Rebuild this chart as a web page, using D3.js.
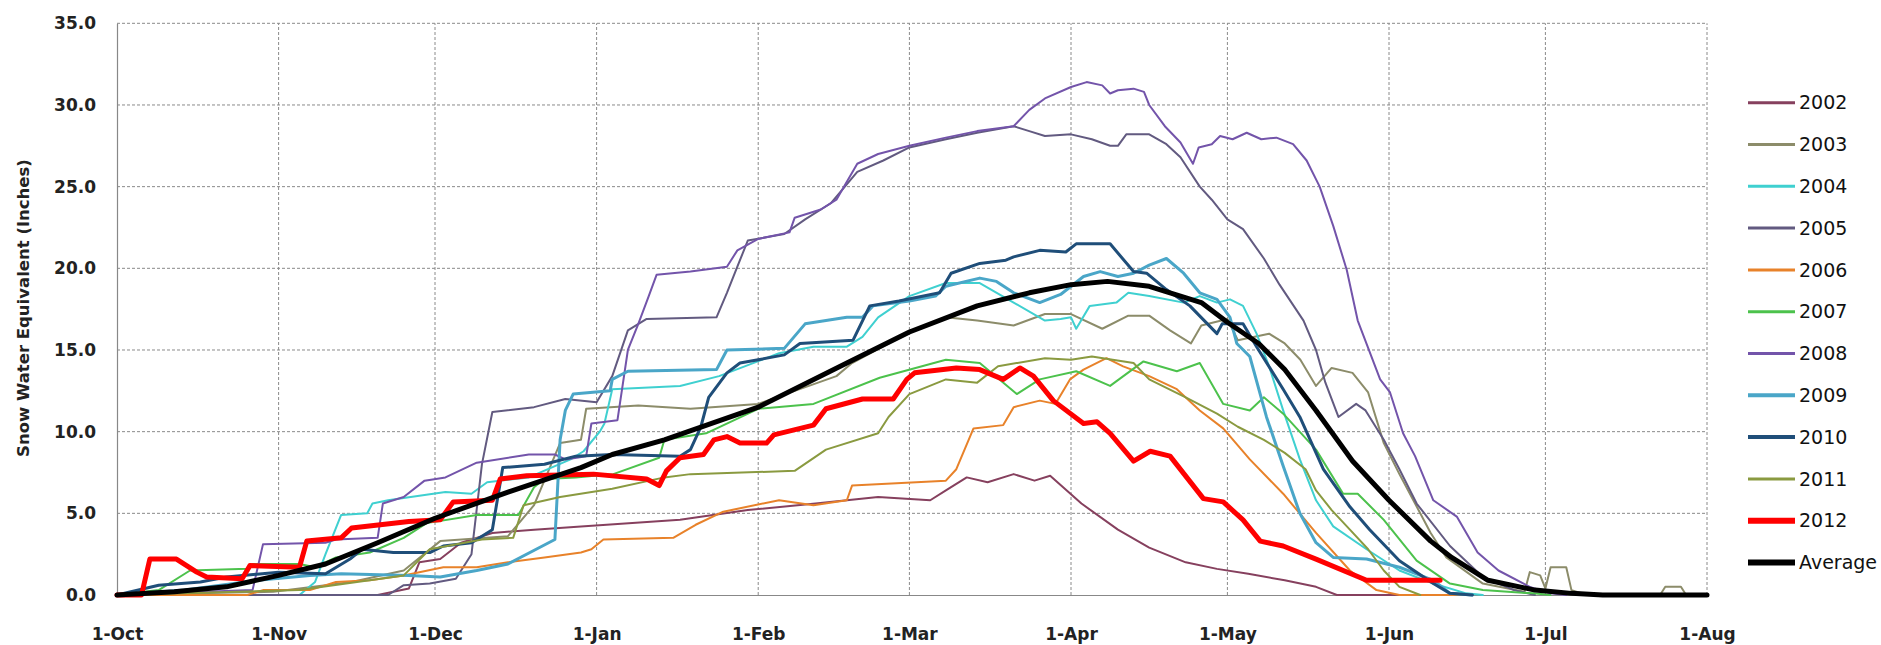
<!DOCTYPE html>
<html><head><meta charset="utf-8">
<script src="https://cdn.jsdelivr.net/npm/d3@7"></script>
<style>body{margin:0;background:#fff;} svg{display:block;}</style>
</head><body><svg id="chart" width="1881" height="645"></svg>
<script>
// ---- data (day offset from 1-Oct, SWE inches) ----
const seasonStart = "2011-10-01";
const seasonEnd = "2012-08-01";
const yTicks = [0, 5, 10, 15, 20, 25, 30, 35];
const monthTicks = ["2011-10-01","2011-11-01","2011-12-01","2012-01-01","2012-02-01","2012-03-01","2012-04-01","2012-05-01","2012-06-01","2012-07-01","2012-08-01"];
const monthLabels = ["1-Oct","1-Nov","1-Dec","1-Jan","1-Feb","1-Mar","1-Apr","1-May","1-Jun","1-Jul","1-Aug"];
const seriesNames = ["2002","2003","2004","2005","2006","2007","2008","2009","2010","2011","2012","Average"];

const swe2002 = [[0,0],[50,0],[56,0.4],[58,2.0],[62,2.2],[66,3.2],[72,3.8],[80,4.0],[89,4.2],[108,4.6],[121,5.2],[134,5.6],[146,6.0],[156,5.8],[159,6.4],[163,7.2],[167,6.9],[172,7.4],[176,7.0],[179,7.3],[185,5.6],[192,4.0],[198,2.9],[205,2.0],[211,1.6],[217,1.3],[224,0.9],[230,0.5],[234,0],[250,0]];
const swe2003 = [[0,0],[30,0.2],[45,0.8],[55,1.5],[62,3.3],[75,3.6],[80,5.5],[85,9.3],[89,9.5],[90,11.4],[100,11.6],[110,11.4],[123,11.7],[138,13.4],[141,14.2],[152,16.1],[159,17.0],[165,16.8],[172,16.5],[178,17.2],[183,17.2],[189,16.3],[194,17.1],[198,17.1],[202,16.2],[206,15.4],[208,16.5],[213,16.9],[215,15.6],[221,16.0],[224,15.4],[227,14.4],[230,12.8],[233,13.9],[237,13.6],[240,12.4],[243,9.3],[246,7.4],[249,5.6],[252,3.8],[255,2.3],[262,0.7],[270,0.2],[271,1.4],[273,1.2],[274,0.4],[275,1.7],[278,1.7],[279,0.3],[282,0],[296,0],[297,0.5],[300,0.5],[301,0],[305,0]];
const swe2004 = [[0,0],[35,0],[38,0.8],[40,2.5],[43,4.9],[48,5.0],[49,5.6],[52,5.8],[63,6.3],[68,6.2],[71,6.9],[79,7.2],[87,8.3],[89.5,8.8],[92.6,10.0],[93.5,10.5],[95,12.6],[108,12.8],[115.5,13.4],[127,14.8],[133.6,15.2],[140,15.2],[143,15.8],[146,17.0],[152,18.3],[159,19.1],[165.5,19.1],[172,17.9],[178,16.8],[181,16.9],[183,17.0],[184,16.3],[186.6,17.7],[191.7,17.9],[194,18.5],[198,18.3],[204.6,17.9],[207.7,18.3],[211,17.9],[213.5,18.1],[216,17.7],[218.6,16.0],[221,14.0],[223.7,11.3],[226.9,8.3],[230,5.8],[233.3,4.2],[239.7,2.8],[246,1.5],[252.5,0.7],[258.8,0.1],[262,0]];
const swe2005 = [[0,0],[52,0],[55,0.6],[60,0.7],[65,1.0],[68,2.5],[70,8.0],[72,11.2],[80,11.5],[86,12.0],[92,11.8],[95,13.4],[98,16.2],[101.6,16.9],[115,17.0],[117,18.5],[119,20.1],[121,21.7],[128,22.1],[132,23.0],[137,24.0],[142,25.9],[147,26.6],[152,27.4],[159,27.9],[165,28.3],[172,28.7],[175,28.4],[178,28.1],[183,28.2],[187,27.9],[190.5,27.5],[192,27.5],[193.6,28.2],[198,28.2],[201.3,27.6],[204,26.8],[207.7,25.0],[210,24.2],[213,23.0],[216,22.4],[220,20.6],[223,19.0],[227.6,16.8],[230,15.0],[231.8,13.0],[234.3,10.9],[237.7,11.7],[239.5,11.3],[243,9.5],[246,7.7],[249.3,5.6],[255.7,3.0],[262,1.1],[268,0.3],[272,0]];
const swe2006 = [[0,0],[25,0],[28,0.3],[37,0.3],[42,0.8],[48.5,0.9],[55,1.2],[62.6,1.7],[69,1.7],[75,2.0],[82,2.3],[89,2.6],[91,2.8],[93.3,3.4],[106.7,3.5],[111,4.3],[116.3,5.1],[127,5.8],[133.6,5.5],[140,5.8],[141,6.7],[159,7.0],[161,7.7],[164.3,10.2],[170,10.4],[172,11.5],[177,11.9],[180,11.7],[182.8,13.2],[185.4,13.8],[189.8,14.5],[193,14.0],[198,13.4],[203.3,12.6],[207.7,11.3],[212.2,10.2],[217.3,8.3],[223.7,6.2],[230,3.8],[236.5,1.5],[241.6,0.3],[246,0],[260,0]];
const swe2007 = [[0,0],[8,0.3],[14,1.5],[25,1.6],[26,1.9],[35,1.9],[38,1.7],[42,2.3],[48.5,2.6],[55,3.5],[59.4,4.4],[69,4.9],[77,4.9],[80,6.6],[82,7.1],[88,7.2],[95.2,7.4],[104,8.4],[105,9.5],[113,9.9],[123,11.4],[133.6,11.7],[146.3,13.3],[159,14.4],[165.5,14.2],[172.6,12.3],[177,13.2],[184,13.7],[190.5,12.8],[196.9,14.3],[203.3,13.7],[207.7,14.2],[212.2,11.7],[217.3,11.3],[220,12.1],[223.7,11.1],[230,8.9],[235.2,6.2],[238,6.2],[243,4.6],[249.3,2.1],[255.7,0.7],[262,0.3],[271.7,0.1],[275,0]];
const swe2008 = [[0,0],[26,0.3],[28,3.1],[40,3.2],[42,3.4],[50,3.5],[51,5.6],[55,6.0],[59,7.0],[63,7.2],[69,8.1],[79,8.6],[84,8.6],[86,8.3],[90,8.5],[91,10.5],[96,10.7],[98,15.0],[100,16.6],[102,18.3],[103.5,19.6],[110,19.8],[117,20.1],[119,21.1],[123,21.8],[129,22.2],[130,23.1],[135,23.6],[138,24.2],[142,26.4],[146,27.0],[152,27.5],[159,28.0],[165,28.4],[172,28.7],[175,29.7],[178,30.4],[183,31.1],[186,31.4],[189,31.2],[190.5,30.7],[192,30.9],[195,31.0],[197,30.8],[198,30.0],[201,28.7],[204,27.7],[206.4,26.4],[207.5,27.4],[210,27.6],[211.6,28.1],[214,27.9],[216.7,28.3],[219.5,27.9],[222.4,28.0],[225.6,27.6],[228.2,26.6],[230.7,25.0],[233.3,22.6],[235.9,19.9],[238,16.8],[242.3,13.2],[244.2,12.4],[246.7,9.9],[249,8.5],[252.5,5.8],[257,4.8],[261,2.6],[265,1.5],[271,0.5],[275,0.1],[278,0]];
const swe2009 = [[0,0],[13,0.3],[27,0.9],[37,1.2],[43,1.3],[56,1.2],[62,1.1],[69,1.5],[75,1.9],[84,3.4],[85,9.5],[86,11.3],[87.5,12.3],[94.6,12.5],[95,13.2],[98,13.7],[115,13.8],[117,15.0],[128,15.1],[132,16.6],[140,17.0],[143,17.0],[145,17.7],[152,18.0],[157,18.3],[159,18.9],[165.5,19.4],[168.7,19.2],[172,18.5],[177,17.9],[181,18.4],[185.4,19.5],[188.6,19.8],[192,19.5],[195,19.7],[198,20.2],[201.3,20.6],[204.6,19.7],[207.7,18.5],[211,18.1],[213.5,17.0],[214.8,15.4],[217.3,14.6],[220.5,10.9],[223.7,7.9],[226.9,5.0],[230,3.2],[233.3,2.3],[239.7,2.2],[246,1.7],[252.5,0.9],[255.7,0.1],[260,0]];
const swe2010 = [[0,0],[8,0.6],[16,0.8],[21,1.1],[31,1.4],[40,1.3],[44.7,2.2],[47,2.8],[53,2.6],[60,2.6],[62.6,3.0],[68,3.2],[72,4.0],[74,7.8],[82,8.0],[88,8.5],[95,8.6],[108,8.5],[110,8.9],[112,10.3],[113.5,12.1],[117,13.6],[119.5,14.2],[123,14.4],[128,14.7],[131,15.4],[141.2,15.6],[144.4,17.7],[150,18.0],[157.8,18.5],[160,19.7],[165.5,20.3],[170.5,20.5],[172,20.7],[177,21.1],[182,21.0],[184,21.5],[190.5,21.5],[195,19.8],[197.5,19.7],[201.3,18.7],[205.8,17.7],[211,16.0],[212,16.6],[216,16.6],[218.6,15.2],[223.7,12.6],[226.9,10.9],[231.4,7.7],[236.5,5.4],[240.3,4.0],[246,2.1],[252.5,0.7],[255.7,0.1],[260,0]];
const swe2011 = [[0,0],[35,0.3],[55,1.2],[60,2.8],[70,3.4],[76,3.5],[78,5.5],[85,6.0],[95,6.5],[105,7.2],[110,7.4],[130,7.6],[136,8.9],[146,9.9],[148,10.9],[152,12.3],[159,13.2],[165,13.0],[169,14.0],[178,14.5],[183,14.4],[187,14.6],[195,14.2],[198,13.2],[205,12.1],[211,11.1],[215,10.3],[220,9.5],[224,8.7],[228,7.7],[230,6.4],[233,5.2],[236.5,4.0],[240,2.8],[243,1.5],[246,0.5],[250,0]];
const swe2012 = [[0,0],[4.7,0],[6.3,2.2],[11.4,2.2],[15.3,1.4],[17.2,1.1],[24,1.0],[25.5,1.8],[35,1.7],[36.4,3.3],[43,3.5],[45,4.1],[56,4.5],[62,4.6],[64.5,5.7],[72,5.8],[73.5,7.1],[78.6,7.3],[91.4,7.4],[101.6,7.1],[104,6.7],[105.4,7.6],[108,8.4],[112.5,8.6],[114.5,9.5],[117,9.7],[119.5,9.3],[124.6,9.3],[126,9.8],[133.6,10.4],[136,11.4],[143,12.0],[148.9,12.0],[151.5,13.2],[153,13.6],[161,13.9],[165.5,13.8],[170,13.2],[173.2,13.9],[175.8,13.4],[179.6,11.9],[185.4,10.5],[188,10.6],[190.5,9.9],[195,8.2],[198.2,8.8],[202,8.5],[208.4,5.9],[212.2,5.7],[216,4.6],[219.3,3.3],[223.7,3.0],[230,2.2],[239.7,0.9],[253.8,0.9]];
const sweAverage = [[0,0],[11,0.2],[21,0.5],[31,1.2],[40,1.9],[50,3.2],[61,4.7],[75,6.3],[89,7.8],[95,8.6],[105,9.5],[123,11.5],[140,14.2],[152,16.1],[165,17.7],[175,18.5],[183,19.0],[190,19.2],[198,18.9],[208,17.9],[213,16.7],[219,15.4],[224,13.8],[230,11.3],[237,8.2],[244,5.8],[252,3.3],[256,2.3],[263,0.9],[272,0.3],[279,0.1],[285,0],[305,0]];

const seriesData = [swe2002, swe2003, swe2004, swe2005, swe2006, swe2007, swe2008, swe2009, swe2010, swe2011, swe2012, sweAverage];

// ---- styles ----
const seriesColors = ["#86405e","#8c8c6a","#3fd0d0","#625a80","#e8822a","#4cc24c","#7354aa","#4aa6c8","#1f4e79","#8a9a40","#ff0000","#000000"];
const seriesWidths = [2, 2, 2, 2, 2, 2, 2, 3, 3, 2, 5, 5];

const svg = d3.select("#chart");
svg.append("rect").attr("width", 1881).attr("height", 645).attr("fill", "#fff");

const parse = d3.utcParse("%Y-%m-%d");
const t0 = parse(seasonStart);
const dayDate = d => new Date(t0.getTime() + d * 86400000);
const x = d3.scaleUtc().domain([t0, parse(seasonEnd)]).range([117, 1707]);
const y = d3.scaleLinear().domain([0, 35]).range([595, 23.3]);
const monthDates = monthTicks.map(parse);

// gridlines
const grid = svg.append("g");
grid.selectAll("line.h").data(yTicks.filter(v => v > 0)).join("line")
  .attr("x1", x.range()[0]).attr("x2", x.range()[1])
  .attr("y1", d => y(d)).attr("y2", d => y(d))
  .attr("stroke", "#8a8a8a").attr("stroke-width", 1).attr("stroke-dasharray", "3,2");
grid.selectAll("line.v").data(monthDates.slice(1)).join("line")
  .attr("x1", d => x(d)).attr("x2", d => x(d))
  .attr("y1", y(0)).attr("y2", y(35))
  .attr("stroke", "#8a8a8a").attr("stroke-width", 1).attr("stroke-dasharray", "3,2");

// axes
const fontAxis = "'DejaVu Sans', sans-serif";
const yAxis = svg.append("g").attr("transform", `translate(${x.range()[0]},0)`)
  .call(d3.axisLeft(y).tickValues(yTicks).tickFormat(d3.format(".1f")).tickSize(0).tickPadding(21));
yAxis.select(".domain").attr("stroke", "#888").attr("stroke-width", 1.2);
yAxis.selectAll("text").attr("font-family", fontAxis).attr("font-weight", "bold").attr("font-size", 17).attr("fill", "#222");

const xAxis = svg.append("g").attr("transform", `translate(0,${y(0)})`)
  .call(d3.axisBottom(x).tickValues(monthDates).tickFormat((d, i) => monthLabels[i]).tickSize(0).tickPadding(33));
xAxis.select(".domain").attr("stroke", "#888").attr("stroke-width", 1.2);
xAxis.selectAll("text").attr("font-family", fontAxis).attr("font-weight", "bold").attr("font-size", 17).attr("fill", "#222");

svg.append("text")
  .attr("transform", `translate(23,308) rotate(-90)`)
  .attr("text-anchor", "middle").attr("dy", "0.35em")
  .attr("font-family", fontAxis).attr("font-weight", "bold").attr("font-size", 16.5).attr("fill", "#222")
  .text("Snow Water Equivalent (Inches)");

// lines
const line = d3.line().x(d => x(dayDate(d[0]))).y(d => y(d[1]));
svg.append("g").selectAll("path").data(seriesData).join("path")
  .attr("d", line)
  .attr("fill", "none")
  .attr("stroke", (d, i) => seriesColors[i])
  .attr("stroke-width", (d, i) => seriesWidths[i])
  .attr("stroke-linejoin", "round").attr("stroke-linecap", "round");

// legend
const legend = svg.append("g");
const items = legend.selectAll("g").data(seriesNames).join("g")
  .attr("transform", (d, i) => `translate(1748,${102.7 + i * 41.8})`);
items.append("line").attr("x1", 0).attr("x2", 47)
  .attr("stroke", (d, i) => seriesColors[i]).attr("stroke-width", (d, i) => seriesWidths[i] + 1);
items.append("text").attr("x", 51).attr("dy", "0.35em")
  .attr("font-family", fontAxis).attr("font-size", 19).attr("fill", "#111")
  .text(d => d);
</script>
</body></html>
